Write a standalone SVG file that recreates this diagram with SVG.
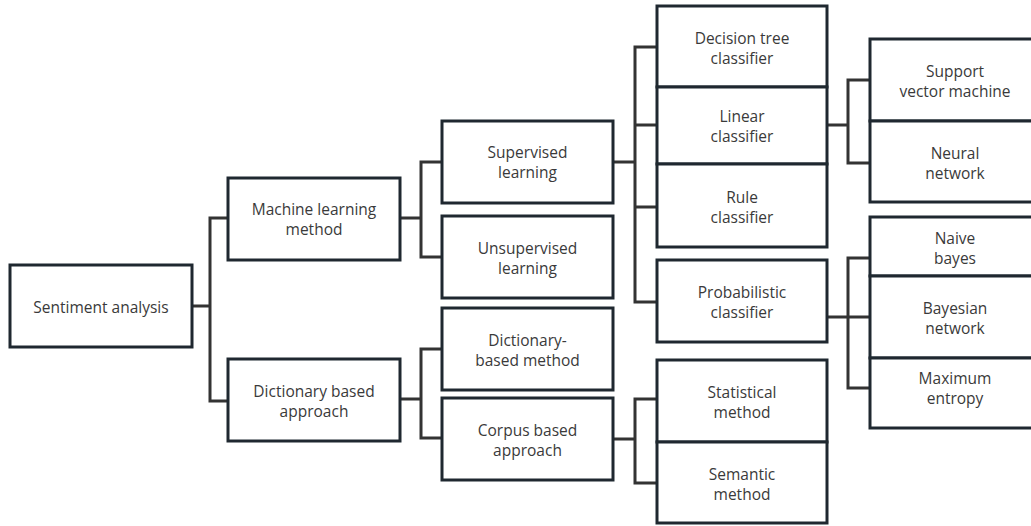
<svg xmlns="http://www.w3.org/2000/svg" width="1031" height="526" viewBox="0 0 1031 526">
  <style>
    .box { fill: #ffffff; stroke: #1f2830; stroke-width: 3; }
    .lbl { font-family: "Open Sans", "Noto Sans", "DejaVu Sans", sans-serif; font-size: 15.5px; fill: #3a3a3a; text-anchor: middle; }
    .link { fill: none; stroke: #333333; stroke-width: 3; stroke-linejoin: miter; }
  </style>
  <rect width="1031" height="526" fill="#ffffff"/>

  <!-- tree connectors -->
  <g id="connectors" class="link">
    <path d="M192 306 H210 M228 218 H210 V401 H228"/>
    <path d="M400 218 H421 M442 162 H421 V257 H442"/>
    <path d="M400 399 H421 M442 349 H421 V438 H442"/>
    <path d="M613 162 H635 M656 47 H635 V302 H656 M635 125 H656 M635 207 H656"/>
    <path d="M827 125 H848 M870 80 H848 V163 H870"/>
    <path d="M827 317 H848 M870 258 H848 V388 H870 M848 317 H870"/>
    <path d="M613 439 H635 M656 399 H635 V483 H656"/>
  </g>

  <g id="sentiment-analysis">
    <rect class="box" x="10" y="265" width="182" height="82"/>
    <text class="lbl" x="101" y="313">Sentiment analysis</text>
  </g>

  <g id="machine-learning-method">
    <rect class="box" x="228" y="178" width="172" height="82"/>
    <text class="lbl" x="314" y="215">Machine learning</text>
    <text class="lbl" x="314" y="235">method</text>
  </g>

  <g id="dictionary-based-approach">
    <rect class="box" x="228" y="359" width="172" height="82"/>
    <text class="lbl" x="314" y="397">Dictionary based</text>
    <text class="lbl" x="314" y="417">approach</text>
  </g>

  <g id="supervised-learning">
    <rect class="box" x="442" y="121" width="171" height="82"/>
    <text class="lbl" x="527.5" y="158">Supervised</text>
    <text class="lbl" x="527.5" y="178">learning</text>
  </g>

  <g id="unsupervised-learning">
    <rect class="box" x="442" y="216" width="171" height="82"/>
    <text class="lbl" x="527.5" y="254">Unsupervised</text>
    <text class="lbl" x="527.5" y="274">learning</text>
  </g>

  <g id="dictionary-based-method">
    <rect class="box" x="442" y="308" width="171" height="82"/>
    <text class="lbl" x="527.5" y="346">Dictionary-</text>
    <text class="lbl" x="527.5" y="366">based method</text>
  </g>

  <g id="corpus-based-approach">
    <rect class="box" x="442" y="398" width="171" height="82"/>
    <text class="lbl" x="527.5" y="436">Corpus based</text>
    <text class="lbl" x="527.5" y="456">approach</text>
  </g>

  <g id="decision-tree-classifier">
    <rect class="box" x="657" y="6" width="170" height="81"/>
    <text class="lbl" x="742" y="44">Decision tree</text>
    <text class="lbl" x="742" y="64">classifier</text>
  </g>

  <g id="linear-classifier">
    <rect class="box" x="657" y="87" width="170" height="77"/>
    <text class="lbl" x="742" y="122">Linear</text>
    <text class="lbl" x="742" y="142">classifier</text>
  </g>

  <g id="rule-classifier">
    <rect class="box" x="657" y="164" width="170" height="83"/>
    <text class="lbl" x="742" y="203">Rule</text>
    <text class="lbl" x="742" y="223">classifier</text>
  </g>

  <g id="probabilistic-classifier">
    <rect class="box" x="657" y="260" width="170" height="82"/>
    <text class="lbl" x="742" y="298">Probabilistic</text>
    <text class="lbl" x="742" y="318">classifier</text>
  </g>

  <g id="statistical-method">
    <rect class="box" x="657" y="360" width="170" height="82"/>
    <text class="lbl" x="742" y="398">Statistical</text>
    <text class="lbl" x="742" y="418">method</text>
  </g>

  <g id="semantic-method">
    <rect class="box" x="657" y="442" width="170" height="81"/>
    <text class="lbl" x="742" y="480">Semantic</text>
    <text class="lbl" x="742" y="500">method</text>
  </g>

  <g id="support-vector-machine">
    <rect class="box" x="870" y="39" width="172" height="82"/>
    <text class="lbl" x="955" y="77">Support</text>
    <text class="lbl" x="955" y="97">vector machine</text>
  </g>

  <g id="neural-network">
    <rect class="box" x="870" y="121" width="172" height="81"/>
    <text class="lbl" x="955" y="159">Neural</text>
    <text class="lbl" x="955" y="179">network</text>
  </g>

  <g id="naive-bayes">
    <rect class="box" x="870" y="217" width="172" height="59"/>
    <text class="lbl" x="955" y="244">Naive</text>
    <text class="lbl" x="955" y="264">bayes</text>
  </g>

  <g id="bayesian-network">
    <rect class="box" x="870" y="276" width="172" height="82"/>
    <text class="lbl" x="955" y="314">Bayesian</text>
    <text class="lbl" x="955" y="334">network</text>
  </g>

  <g id="maximum-entropy">
    <rect class="box" x="870" y="358" width="172" height="70"/>
    <text class="lbl" x="955" y="384">Maximum</text>
    <text class="lbl" x="955" y="404">entropy</text>
  </g>
</svg>
